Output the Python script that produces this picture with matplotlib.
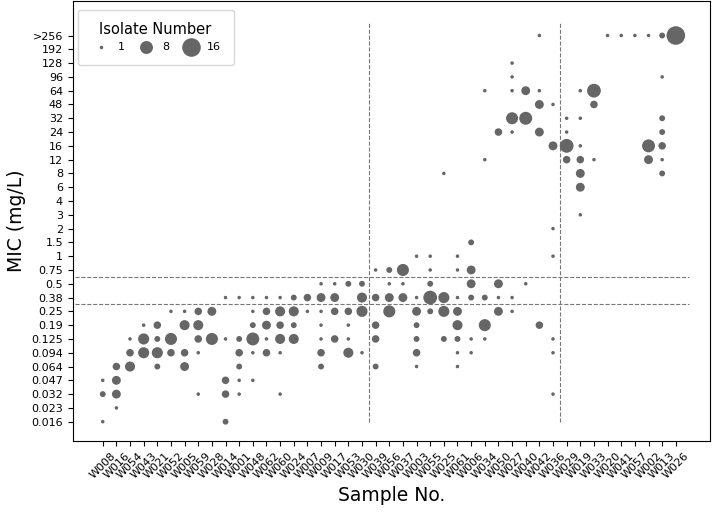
import numpy as np
import matplotlib.pyplot as plt
from matplotlib.lines import Line2D

# サンプル名とMICの段階
samples = ['W008', 'W016', 'W054', 'W043', 'W021', 'W052', 'W005', 'W059', 'W028',
           'W014', 'W001', 'W048', 'W062', 'W060', 'W024', 'W007', 'W009', 'W017',
           'W053', 'W030', 'W039', 'W056', 'W037', 'W003', 'W055', 'W025', 'W061',
           'W006', 'W034', 'W050', 'W027', 'W040', 'W042', 'W036', 'W029', 'W019',
           'W033', 'W020', 'W041', 'W057', 'W002', 'W013', 'W026']

mic_labels = ['0.016', '0.023', '0.032', '0.047', '0.064', '0.094', '0.125', '0.19',
              '0.25', '0.38', '0.5', '0.75', '1', '1.5', '2', '3', '4', '6', '8', '12',
              '16', '24', '32', '48', '64', '96', '128', '192', '>256']

# 各サンプルのMIC値と株数
mic_by_sample = [
    ['0.016', '0.032', '0.047'],
    ['0.023', '0.032', '0.047', '0.064'],
    ['0.064', '0.094', '0.125'],
    ['0.094', '0.125', '0.19'],
    ['0.064', '0.094', '0.125', '0.19'],
    ['0.094', '0.125', '0.25'],
    ['0.064', '0.094', '0.19', '0.25'],
    ['0.032', '0.094', '0.125', '0.19', '0.25'],
    ['0.125', '0.25'],
    ['0.016', '0.032', '0.047', '0.125', '0.38'],
    ['0.032', '0.047', '0.064', '0.094', '0.125', '0.38'],
    ['0.047', '0.094', '0.125', '0.19', '0.25', '0.38'],
    ['0.094', '0.125', '0.19', '0.25', '0.38'],
    ['0.032', '0.094', '0.125', '0.19', '0.25', '0.38'],
    ['0.125', '0.19', '0.25', '0.38'],
    ['0.25', '0.38'],
    ['0.064', '0.094', '0.125', '0.19', '0.25', '0.38', '0.5'],
    ['0.125', '0.25', '0.38', '0.5'],
    ['0.094', '0.125', '0.19', '0.25', '0.5'],
    ['0.094', '0.25', '0.38', '0.5'],
    ['0.064', '0.125', '0.19', '0.38', '0.75'],
    ['0.25', '0.38', '0.5', '0.75'],
    ['0.38', '0.5', '0.75'],
    ['0.064', '0.094', '0.125', '0.19', '0.25', '0.38', '1'],
    ['0.25', '0.38', '0.5', '0.75', '1'],
    ['0.125', '0.25', '0.38', '8'],
    ['0.064', '0.094', '0.125', '0.19', '0.25', '0.38', '0.75', '1'],
    ['0.094', '0.125', '0.38', '0.5', '0.75', '1.5'],
    ['0.125', '0.19', '0.38', '12', '64'],
    ['0.25', '0.38', '0.5', '24'],
    ['0.25', '0.38', '24', '32', '64', '96', '128'],
    ['0.5', '32', '64'],
    ['0.19', '24', '48', '64', '>256'],
    ['0.032', '0.094', '0.125', '1', '2', '16', '48'],
    ['12', '16', '24', '32'],
    ['3', '6', '8', '12', '16', '32', '64'],
    ['12', '48', '64'],
    ['>256'],
    ['>256'],
    ['>256'],
    ['12', '16', '>256'],
    ['8', '12', '16', '24', '32', '96', '>256'],
    ['>256'],
]

n_by_sample = [
    [1, 2, 1],
    [1, 4, 4, 3],
    [5, 3, 1],
    [6, 6, 1],
    [2, 6, 2, 3],
    [3, 7, 1],
    [4, 3, 5, 1],
    [1, 1, 3, 5, 3],
    [7, 4],
    [2, 3, 3, 1, 1],
    [1, 1, 2, 3, 2, 1],
    [1, 1, 8, 2, 1, 1],
    [3, 1, 4, 3, 1],
    [1, 1, 5, 3, 5, 1],
    [5, 2, 5, 2],
    [1, 3],
    [2, 3, 1, 1, 1, 4, 1],
    [3, 3, 4, 1],
    [5, 1, 1, 3, 2],
    [1, 6, 5, 2],
    [2, 3, 3, 3, 1],
    [7, 4, 1, 2],
    [4, 1, 7],
    [1, 3, 2, 2, 4, 1, 1],
    [2, 9, 2, 1, 1],
    [2, 6, 6, 1],
    [1, 1, 2, 5, 4, 1, 1, 1],
    [1, 1, 2, 4, 4, 2],
    [1, 7, 2, 1, 1],
    [4, 1, 4, 3],
    [1, 1, 1, 7, 1, 1, 1],
    [1, 8, 4],
    [3, 4, 4, 1, 1],
    [1, 1, 1, 1, 1, 4, 1],
    [3, 9, 1, 1],
    [1, 4, 4, 3, 1, 1, 1],
    [1, 3, 9],
    [1],
    [1],
    [1],
    [4, 8, 1],
    [2, 1, 3, 2, 2, 1, 2],
    [16],
]

legend_counts = [1, 8, 16]


def marker_area(n):
    return 11.5 * np.asarray(n) - 5


xs, ys, ns = [], [], []
for i, (mics, counts) in enumerate(zip(mic_by_sample, n_by_sample)):
    for m, c in zip(mics, counts):
        xs.append(i)
        ys.append(mic_labels.index(m))
        ns.append(c)

dot_color = '#666666'

fig = plt.figure(figsize=(7.2, 5.14), dpi=100)
ax = fig.add_axes([0.101, 0.142, 0.885, 0.856])

ax.scatter(xs, ys, s=marker_area(ns), color=dot_color, linewidths=0, zorder=3)

# 区切り線
ax.hlines([8.5, 10.5], -2, 43, colors='#777777', linestyles='--', linewidth=0.8)
ax.vlines([19.5, 33.5], 0, 29, colors='#777777', linestyles='--', linewidth=0.8)

ax.set_xticks(range(len(samples)))
ax.set_xticklabels(samples, rotation=45, fontsize=8)
ax.set_yticks(range(len(mic_labels)))
ax.set_yticklabels(mic_labels, fontsize=8)
ax.set_xlim(-2.2, 44.5)
ax.set_ylim(-1.4, 30.5)

ax.set_xlabel('Sample No.', fontsize=13.5)
ax.set_ylabel('MIC (mg/L)', fontsize=13.5)

handles = [Line2D([], [], linestyle='', marker='o', color=dot_color, markeredgewidth=0,
                  markersize=np.sqrt(marker_area(c))) for c in legend_counts]
ax.legend(handles, [str(c) for c in legend_counts], title='Isolate Number',
          ncol=3, loc='upper left', fontsize=8, title_fontsize=10.5,
          handletextpad=0.5, columnspacing=0.9, borderpad=1.1,
          bbox_to_anchor=(-0.001, 0.993))

fig.savefig('out.png', dpi=100)
